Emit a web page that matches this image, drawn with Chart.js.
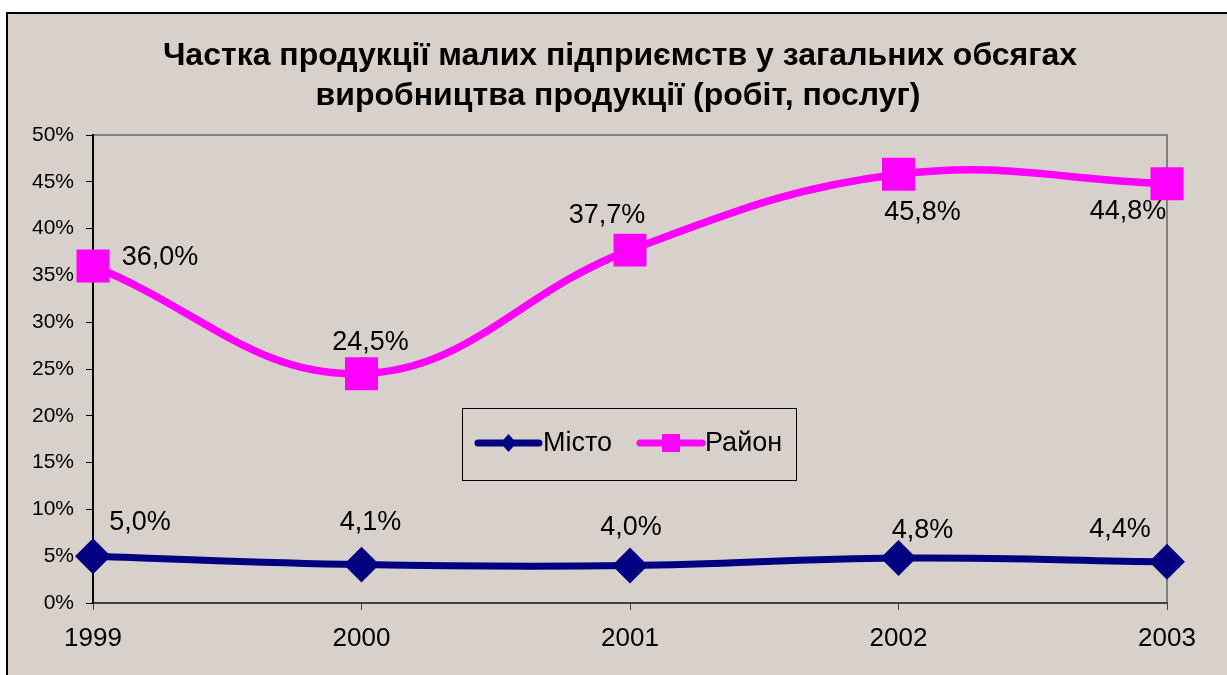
<!DOCTYPE html>
<html>
<head>
<meta charset="utf-8">
<script src="https://cdn.jsdelivr.net/npm/chart.js@4.4.1/dist/chart.umd.min.js"></script>
<style>
html,body{margin:0;padding:0;background:#ffffff;}
#wrap{width:1227px;height:675px;position:relative;}
</style>
</head>
<body>
<div id="wrap"><canvas id="c" width="1227" height="675"></canvas></div>
<script>
// ---- data ----
const years = ['1999', '2000', '2001', '2002', '2003'];
const mistoValues = [5.0, 4.1, 4.0, 4.8, 4.4];
const raionValues = [36.0, 24.5, 37.7, 45.8, 44.8];
const seriesNames = ['Місто', 'Район'];
const titleLines = ['Частка продукції малих підприємств у загальних обсягах', 'виробництва продукції (робіт, послуг)'];
const yTickMax = 50;
const yTickStep = 5;

const FONT = "'Liberation Sans', Arial, sans-serif";
const BG = '#D8D0CA';

// label offsets relative to point (pixels), per dataset
const labelOffsets = [
  [[47,-34],[9,-42],[1,-38],[24,-28],[-47,-32]],
  [[67,-8],[9,-31],[-23,-35],[24,38],[-39,28]]
];

const fmt = v => v.toFixed(1).replace('.', ',') + '%';

const framePlugin = {
  id: 'frame',
  beforeDraw(chart) {
    const ctx = chart.ctx;
    ctx.save();
    ctx.fillStyle = '#ffffff';
    ctx.fillRect(0, 0, chart.width, chart.height);
    ctx.fillStyle = BG;
    ctx.fillRect(6, 12, chart.width - 6, chart.height - 12);
    ctx.strokeStyle = '#000000';
    ctx.lineWidth = 2;
    ctx.beginPath();
    ctx.moveTo(7, chart.height);
    ctx.lineTo(7, 13);
    ctx.lineTo(chart.width, 13);
    ctx.stroke();
    // plot area top/right border
    const a = chart.chartArea;
    ctx.strokeStyle = '#808080';
    ctx.lineWidth = 2;
    ctx.beginPath();
    ctx.moveTo(a.left, a.top);
    ctx.lineTo(a.right, a.top);
    ctx.lineTo(a.right, a.bottom);
    ctx.stroke();
    // title
    ctx.fillStyle = '#000000';
    ctx.font = 'bold 32px ' + FONT;
    ctx.textAlign = 'center';
    ctx.textBaseline = 'middle';
    ctx.fillText(titleLines[0], 620, 56);
    ctx.fillText(titleLines[1], 618, 96);
    ctx.restore();
  },
  afterDatasetsDraw(chart) {
    const ctx = chart.ctx;
    ctx.save();
    ctx.fillStyle = '#000000';
    ctx.font = '27px ' + FONT;
    ctx.textAlign = 'center';
    ctx.textBaseline = 'middle';
    chart.data.datasets.forEach((ds, di) => {
      const meta = chart.getDatasetMeta(di);
      meta.data.forEach((pt, i) => {
        const o = labelOffsets[di][i];
        ctx.fillText(fmt(ds.data[i]), pt.x + o[0], pt.y + o[1]);
      });
    });
    // legend
    const lx = 462, ly = 408, lw = 334, lh = 72;
    ctx.strokeStyle = '#000000';
    ctx.lineWidth = 1;
    ctx.strokeRect(lx + 0.5, ly + 0.5, lw, lh);
    const cy = 443;
    const items = [
      {x0: 478, x1: 539, tx: 543, ds: chart.data.datasets[0], shape: 'diamond'},
      {x0: 640, x1: 702, tx: 705, ds: chart.data.datasets[1], shape: 'square'}
    ];
    items.forEach(it => {
      ctx.strokeStyle = it.ds.borderColor;
      ctx.lineWidth = 7;
      ctx.lineCap = 'round';
      ctx.beginPath();
      ctx.moveTo(it.x0, cy);
      ctx.lineTo(it.x1, cy);
      ctx.stroke();
      const mx = (it.x0 + it.x1) / 2;
      ctx.fillStyle = it.ds.borderColor;
      ctx.beginPath();
      if (it.shape === 'diamond') {
        ctx.moveTo(mx, cy - 9); ctx.lineTo(mx + 8, cy); ctx.lineTo(mx, cy + 9); ctx.lineTo(mx - 8, cy);
      } else {
        ctx.rect(mx - 9, cy - 9, 18, 18);
      }
      ctx.closePath();
      ctx.fill();
      ctx.fillStyle = '#000000';
      ctx.textAlign = 'left';
      ctx.font = '27px ' + FONT;
      ctx.fillText(it.ds.label, it.tx, cy + 1);
    });
    ctx.restore();
  }
};

new Chart(document.getElementById('c'), {
  type: 'line',
  data: {
    labels: years,
    datasets: [
      {
        label: seriesNames[0],
        data: mistoValues,
        borderColor: '#000080',
        backgroundColor: '#000080',
        borderWidth: 7,
        pointStyle: 'rectRot',
        pointRadius: 13,
        pointHoverRadius: 13,
        tension: 0.4,
        fill: false
      },
      {
        label: seriesNames[1],
        data: raionValues,
        borderColor: '#FF00FF',
        backgroundColor: '#FF00FF',
        borderWidth: 7.5,
        pointStyle: 'rect',
        pointRadius: 18,
        pointHoverRadius: 18,
        tension: 0.4,
        fill: false
      }
    ]
  },
  options: {
    responsive: false,
    animation: false,
    events: [],
    layout: {padding: {top: 135, right: 60, left: 0, bottom: 0}},
    plugins: {
      legend: {display: false},
      title: {display: false},
      tooltip: {enabled: false}
    },
    scales: {
      x: {
        offset: false,
        grid: {display: true, drawOnChartArea: false, drawTicks: true, tickLength: 7, color: '#404040', lineWidth: 1},
        border: {display: true, color: '#404040', width: 2},
        ticks: {color: '#000000', font: {family: FONT, size: 26}, padding: 13, maxRotation: 0},
        afterFit: s => { s.height = 72; }
      },
      y: {
        min: 0,
        max: yTickMax,
        grid: {display: true, drawOnChartArea: false, drawTicks: true, tickLength: 7, color: '#000000', lineWidth: 1},
        border: {display: true, color: '#000000', width: 2},
        ticks: {stepSize: yTickStep, color: '#000000', font: {family: FONT, size: 21}, padding: 12, callback: v => v + '%'},
        afterFit: s => { s.width = 93; }
      }
    }
  },
  plugins: [framePlugin]
});
</script>
</body>
</html>
